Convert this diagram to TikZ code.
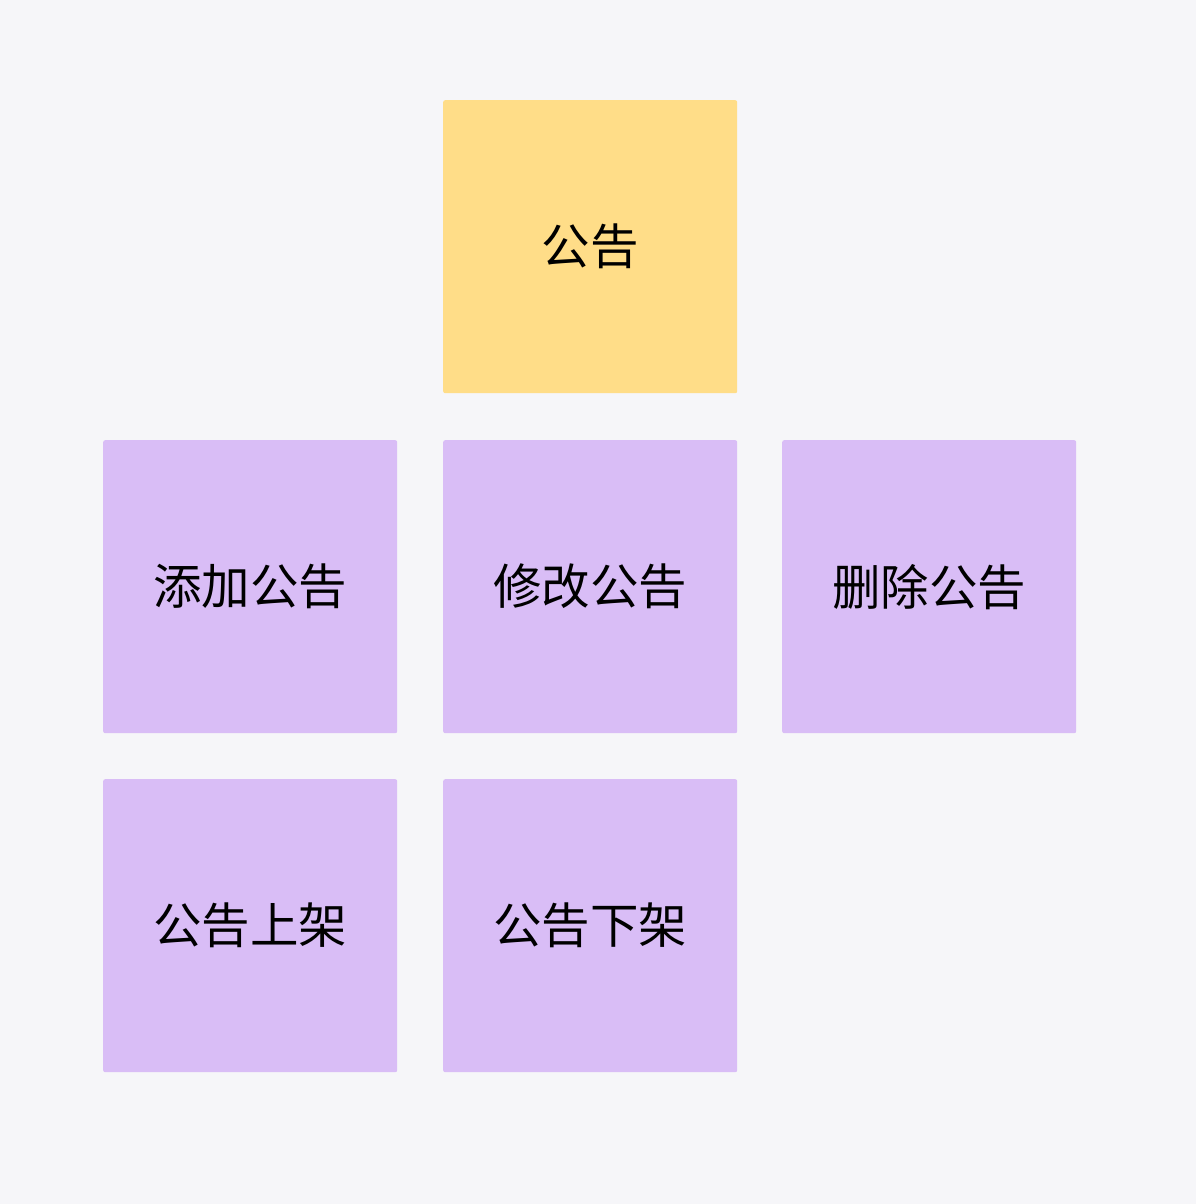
\documentclass[tikz,border=0pt]{standalone}
\usepackage{fontspec}
\newfontfamily\cjk{Noto Sans CJK SC}
\definecolor{bgc}{HTML}{F6F6F9}
\definecolor{yel}{HTML}{FFDD88}
\definecolor{pur}{HTML}{D9BDF6}
\begin{document}
\begin{tikzpicture}[x=1pt,y=-1pt,
  card/.style={minimum width=294pt,minimum height=293pt,inner sep=0pt,rounded corners=2pt,font=\cjk\fontsize{48.5pt}{52pt}\selectfont,text=black,anchor=north west},
  ycard/.style={card,fill=yel},
  pcard/.style={card,fill=pur}]
\fill[bgc] (0,0) rectangle (1196,1204);
\useasboundingbox (0,0) rectangle (1196,1204);
\node[ycard] (root) at (443,100) {公告};
\node[pcard] (add) at (103,440) {添加公告};
\node[pcard] (edit) at (443,440) {修改公告};
\node[pcard] (del) at (782,440) {删除公告};
\node[pcard] (up) at (103,779) {公告上架};
\node[pcard] (down) at (443,779) {公告下架};
\end{tikzpicture}
\end{document}
